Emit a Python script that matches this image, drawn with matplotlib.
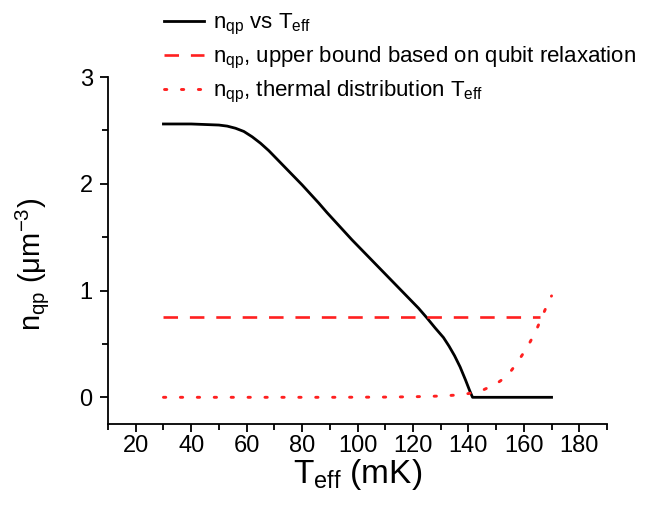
import matplotlib
matplotlib.use("Agg")
import matplotlib.pyplot as plt
from matplotlib.ticker import MultipleLocator

plt.rcParams['font.family'] = ['Liberation Sans', 'DejaVu Sans']
plt.rcParams['mathtext.fontset'] = 'custom'
plt.rcParams['mathtext.rm'] = 'Liberation Sans'
plt.rcParams['mathtext.it'] = 'Liberation Sans:italic'

# black curve: n_qp vs T_eff
t_black = [30, 35, 40, 45, 50, 53, 56, 59, 62, 65, 68, 71, 74, 77, 80, 83, 86,
           89, 92, 95, 98, 101, 104, 107, 110, 113, 116, 119, 122, 125, 128,
           131, 133, 135, 137, 139, 140.5, 141.5, 170]
n_black = [2.56, 2.56, 2.56, 2.555, 2.55, 2.54, 2.52, 2.49, 2.44, 2.38, 2.31,
           2.23, 2.15, 2.07, 1.99, 1.905, 1.82, 1.73, 1.645, 1.56, 1.475,
           1.395, 1.315, 1.235, 1.155, 1.075, 0.995, 0.915, 0.835, 0.745,
           0.65, 0.56, 0.48, 0.39, 0.285, 0.16, 0.06, 0.0, 0.0]

# red dashed: upper bound
t_bound = [30, 166]
n_bound = [0.75, 0.75]

# red dotted: thermal distribution
t_therm = [30, 60, 90, 110, 120, 130, 135, 140, 145, 150, 154, 157.5, 161,
           164, 166.5, 168.5, 170]
n_therm = [0.0, 0.0, 0.0, 0.002, 0.005, 0.012, 0.02, 0.035, 0.065, 0.125,
           0.2, 0.32, 0.46, 0.6, 0.75, 0.87, 0.95]

labels = [r'n$_{\mathregular{qp}}$ vs T$_{\mathregular{eff}}$',
          r'n$_{\mathregular{qp}}$, upper bound based on qubit relaxation',
          r'n$_{\mathregular{qp}}$, thermal distribution T$_{\mathregular{eff}}$']

fig = plt.figure(figsize=(6.63, 5.15), dpi=100)
ax = fig.add_axes([108/663, 1 - 424/515, (607-108)/663, (424-77)/515])

red = '#ff2020'
l1, = ax.plot(t_black, n_black, color='black', lw=2.0)
l2, = ax.plot(t_bound, n_bound, color=red, lw=1.9, dashes=(5.5, 4.5))
l3, = ax.plot(t_therm, n_therm, color=red, lw=2.1, linestyle=(0, (0.8, 5)),
              dash_capstyle='round')

ax.set_xlim(10, 190)
ax.set_ylim(-0.25, 3)
ax.spines['top'].set_visible(False)
ax.spines['right'].set_visible(False)
for s in ['left', 'bottom']:
    ax.spines[s].set_linewidth(1.3)

ax.xaxis.set_major_locator(MultipleLocator(20))
ax.xaxis.set_minor_locator(MultipleLocator(10))
ax.yaxis.set_major_locator(MultipleLocator(1))
ax.yaxis.set_minor_locator(MultipleLocator(0.5))
ax.tick_params(which='major', direction='out', length=6, width=1.3, labelsize=17)
ax.tick_params(which='minor', direction='out', length=4, width=1.3)
ax.tick_params(axis='x', which='major', pad=2)
ax.tick_params(axis='y', which='major', pad=5)
ax.set_xticks([20, 40, 60, 80, 100, 120, 140, 160, 180])

ax.set_xlabel(r'T$_{\mathregular{eff}}$ (mK)', fontsize=24, labelpad=0)
ax.set_ylabel(r'n$_{\mathregular{qp}}$ ($\mathregular{\mu}$m$^{\mathregular{-3}}$)', fontsize=21)
ax.yaxis.set_label_coords(-0.115, 0.46)

fig.legend([l1, l2, l3], labels, loc='upper left', bbox_to_anchor=(150/663, 1.005),
           frameon=False, fontsize=16, handlelength=1.8, handletextpad=0.4,
           labelspacing=0.36, borderpad=0.15)

fig.savefig('out.png', dpi=100)
